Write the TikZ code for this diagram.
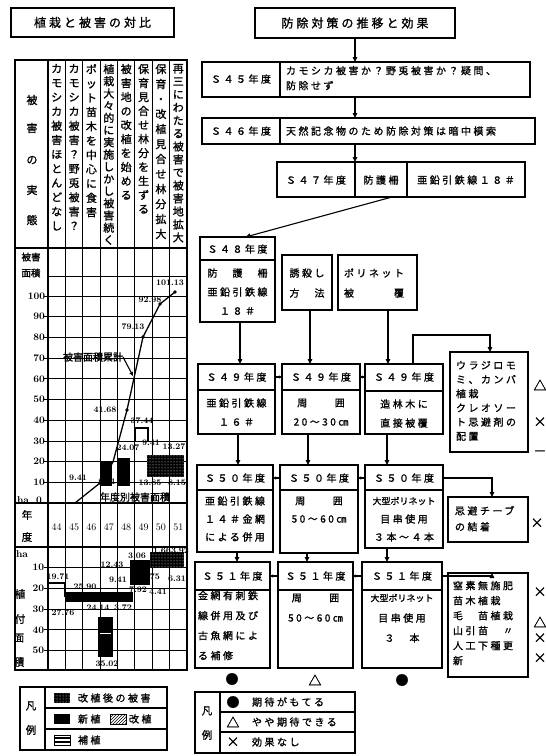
\documentclass[tikz,border=0pt]{standalone}
\usepackage{fontspec}
\newfontfamily\jp{Noto Sans CJK JP}[FakeBold=1.2]
\newfontfamily\jpl{Noto Sans CJK JP}[LetterSpace=25,FakeBold=1.2]
\usetikzlibrary{arrows.meta,patterns}
\ExplSyntaxOn
\NewDocumentCommand\vtext{m}{\tl_map_inline:nn{#1}{##1\\}}
\ExplSyntaxOff
\begin{document}
\begin{tikzpicture}[x=1pt,y=-1pt,line width=1.1pt,
  every node/.style={inner sep=0pt,outer sep=0pt,font=\jp\fontsize{10}{12}\selectfont},
  box/.style 2 args={draw,anchor=north west,minimum width=#1,minimum height=#2},
  arr/.style={-{Triangle[length=5pt,width=4.5pt]}},
  sarr/.style={-{Triangle[length=3pt,width=3pt]}},
  vcol/.style={anchor=north,align=center,font=\jp\fontsize{11}{#1}\selectfont},
  tx/.style={font=\jpl\fontsize{10}{12}\selectfont},
  lt/.style={anchor=west,font=\jpl\fontsize{10}{12}\selectfont},
  mk/.style={font=\jp\fontsize{13}{14}\selectfont},
  grid/.style={line width=0.7pt},
  num/.style={font=\bfseries\fontsize{8.5}{10}\selectfont},
  ax/.style={anchor=east,font=\bfseries\fontsize{10}{11}\selectfont}]
\useasboundingbox (0,0) rectangle (546,756);
\fill[white] (0,0) rectangle (546,756);

% ================= LEFT PANEL =================
\node[box={163}{29}] (lt) at (11,8) {};
\node[font=\jpl\fontsize{12}{14}\selectfont] (ltt) at (lt.center) {植栽と被害の対比};

\node[box={172}{610}] (tab) at (15,60) {};
\draw (48,60) -- (48,670);
\foreach \i in {1,...,7} \draw ({48+17.375*\i},60) -- ({48+17.375*\i},670);
\draw (15,248) -- (187,248);
\draw (15,503) -- (187,503);
\draw (15,547) -- (187,547);
\foreach \v in {10,20,...,100} \draw[grid] (44,{503-2.07*\v}) -- (187,{503-2.07*\v});
\draw[grid] (48,276) -- (187,276);
\foreach \v in {10,20,...,50} \draw[grid] (44,{547+2.07*\v}) -- (187,{547+2.07*\v});

% header column
\node[font=\jp\fontsize{11}{12}\selectfont] (h1) at (32,100) {被};
\node[font=\jp\fontsize{11}{12}\selectfont] (h2) at (32,128) {害};
\node[font=\jp\fontsize{11}{12}\selectfont] (h3) at (32,160) {の};
\node[font=\jp\fontsize{11}{12}\selectfont] (h4) at (32,190) {実};
\node[font=\jp\fontsize{11}{12}\selectfont] (h5) at (32,220) {態};

% text columns
\node[vcol=14.3] (c44) at (56.7,64) {\vtext{カモシカ被害ほとんどなし}};
\node[vcol=14.3] (c45) at (74.1,64) {\vtext{カモシカ被害？野兎被害？}};
\node[vcol=14.3] (c46) at (91.4,64) {\vtext{ポット苗木を中心に食害}};
\node[vcol=12.2] (c47) at (108.8,64) {\vtext{植栽大々的に実施しかし被害続く}};
\node[vcol=14] (c48) at (126.2,64) {\vtext{被害地の改植を始める}};
\node[vcol=14] (c49) at (143.6,64) {\vtext{保育見合せ林分を生ずる}};
\node[vcol=15] (c50) at (160.9,64) {\vtext{保育・改植見合せ林分拡大}};
\node[vcol=13] (c51) at (178.3,64) {\vtext{再三にわたる被害で被害地拡大}};

% upper chart axis
\node[font=\jp\fontsize{9.5}{10}\selectfont] (ya1) at (31,257) {被害};
\node[font=\jp\fontsize{9.5}{10}\selectfont] (ya2) at (31,273) {面積};
\foreach \v in {10,20,...,100} \node[ax] (yl\v) at (45,{503-2.07*\v}) {\v};
\node[font=\bfseries\fontsize{10}{11}\selectfont] (ha0) at (23,500) {ha};
\node[font=\bfseries\fontsize{10}{11}\selectfont] (z0) at (39,500) {0};

% annual bars (upper)
\fill[black] (100,462) rectangle (112,486);
\fill[black] (117,458) rectangle (130,486);
\fill[black] (147,455) rectangle (184,477);
\fill[pattern=dots,pattern color=white] (147,455) rectangle (184,477);
\draw (135,442) -- (135,428) -- (148,428) -- (148,442);

% cumulative line
\coordinate (p0) at (75,503);
\coordinate (p1) at (100,483);
\coordinate (p2) at (113,462);
\coordinate (p3) at (127,410);
\coordinate (p4) at (143,337);
\coordinate (p5) at (160,304);
\coordinate (p6) at (175,292);
\draw[line width=1.3pt] (p0) -- (p1) -- (p2) -- (p3) -- (p4) -- (p5) -- (p6);
\foreach \p in {p1,p3,p4,p5,p6} \fill (\p) circle (1.8);

\node[num] (v1) at (170,283) {101.13};
\node[num] (v2) at (150,300) {92.98};
\node[num] (v3) at (133,327) {79.13};
\node[num] (v4) at (105,410) {41.68};
\node[num] (v5) at (142,421) {37.44};
\node[num] (v6) at (128,448) {24.07};
\node[num] (v7) at (151,443) {9.41};
\node[num] (v8) at (174,447) {13.27};
\node[num] (v9) at (78,478) {9.41};
\node[num] (v10) at (107,482) {8.21};
\node[num] (v11) at (150,483) {13.85};
\node[num] (v12) at (177,483) {8.15};

\node[font=\jp\fontsize{10}{12}\selectfont] (cum) at (93,357) {被害面積累計};
\draw[-{Triangle[length=4pt,width=3.5pt]}] (cum.east) -- (133,376);
\node[font=\jp\fontsize{10}{12}\selectfont] (ann) at (135,497) {年度別被害面積};

% year row
\node[font=\jp\fontsize{10.5}{12}\selectfont] (yy1) at (27,515) {年};
\node[font=\jp\fontsize{10.5}{12}\selectfont] (yy2) at (27,537) {度};
\foreach \yr [count=\i from 0] in {44,...,51} \node[font=\fontsize{10}{11}\selectfont] (yr\yr) at ({48+17.375*(\i+0.5)},527) {\yr};

% lower chart
\node[font=\bfseries\fontsize{10}{11}\selectfont] (ha1) at (22,554) {ha};
\foreach \v in {10,20,...,50} \node[ax] (ll\v) at (44,{547+2.07*\v}) {\v};
\node[font=\jp\fontsize{10.5}{12}\selectfont] (lp1) at (20,594) {植};
\node[font=\jp\fontsize{10.5}{12}\selectfont] (lp2) at (20,619) {付};
\node[font=\jp\fontsize{10.5}{12}\selectfont] (lp3) at (19,638) {面};
\node[font=\jp\fontsize{10.5}{12}\selectfont] (lp4) at (19,662) {積};

\draw[line width=1.3pt] (48,583) -- (65,583) -- (65,597);
\fill[black] (65,592) rectangle (133,602);
\fill[black] (130,560) rectangle (150,585);
\fill[black] (150,552) rectangle (184,567);
\fill[pattern=dots,pattern color=white] (150,552) rectangle (184,567);
\fill[black] (98,617) rectangle (113,657);
\draw[white,line width=0.8pt] (100,633) -- (111,633);

\node[num] (w1) at (58,577) {19.71};
\node[num] (w2) at (85,587) {25.90};
\node[num] (w3) at (63,613) {27.76};
\node[num] (w4) at (98,608) {24.14};
\node[num] (w5) at (123,608) {3.72};
\node[num] (w6) at (118,580) {9.41};
\node[num] (w7) at (112,565) {12.43};
\node[num] (w8) at (137,556) {3.06};
\node[num] (w9) at (162,551) {1.66};
\node[num] (w10) at (180,551) {3.92};
\node[num] (w11) at (138,590) {7.92};
\node[num] (w12) at (158,592) {4.41};
\node[num] (w13) at (151,577) {3.75};
\node[num] (w14) at (177,579) {6.31};
\node[num] (w15) at (107,664) {35.02};

% left legend
\node[box={147}{63}] (lg) at (20,687) {};
\draw (45,687) -- (45,750);
\draw (45,708) -- (167,708);
\draw (45,729) -- (167,729);
\node[font=\jp\fontsize{10.5}{12}\selectfont] (lgA) at (31,706) {凡};
\node[font=\jp\fontsize{10.5}{12}\selectfont] (lgB) at (31,730) {例};
\fill[black] (54,693) rectangle (70,703);
\fill[pattern=dots,pattern color=white] (54,693) rectangle (70,703);
\node[lt] (lg1) at (78,698) {改植後の被害};
\fill[black] (54,714) rectangle (70,724);
\node[lt] (lg2) at (78,719) {新植};
\draw[line width=0.6pt,pattern=north east lines] (110,714) rectangle (126,724);
\node[lt] (lg3) at (129,719) {改植};
\draw[line width=0.8pt] (54,735) rectangle (70,745);
\draw[line width=1.5pt] (54,738) -- (70,738);
\draw[line width=1.5pt] (54,742) -- (70,742);
\node[lt] (lg4) at (78,740) {補植};

% ================= RIGHT PANEL =================
\node[box={200}{30}] (t) at (255,8) {};
\node[font=\jpl\fontsize{12}{14}\selectfont] (tt) at (t.center) {防除対策の推移と効果};

\node[box={328}{35}] (s45) at (202,62) {};
\draw (280,62) -- (280,97);
\node[tx] (s45a) at (241,79) {Ｓ４５年度};
\node[tx,anchor=north west,align=left,font=\jpl\fontsize{10}{15}\selectfont] (s45b) at (286,66) {カモシカ被害か？野兎被害か？疑問、\\防除せず};

\node[box={333}{26}] (s46) at (202,118) {};
\draw (280,118) -- (280,144);
\node[tx] (s46a) at (241,131) {Ｓ４６年度};
\node[tx,anchor=west] (s46b) at (286,131) {天然記念物のため防除対策は暗中模索};

\node[box={248}{35}] (s47) at (277,162) {};
\draw (355,162) -- (355,197);
\draw (407,162) -- (407,197);
\node[tx] (s47a) at (316,180) {Ｓ４７年度};
\node[tx] (s47b) at (381,180) {防護柵};
\node[tx] (s47c) at (466,180) {亜鉛引鉄線１８＃};

\draw[arr] (t.south) -- (t.south |- s45.north);
\draw[arr] (t.south |- s45.south) -- (t.south |- s46.north);
\draw[arr] (t.south |- s46.south) -- (t.south |- s47.north);

% S48 group
\node[box={75}{85}] (s48) at (200,237) {};
\draw (200,260) -- (275,260);
\node[tx] (s48a) at (237.5,249) {Ｓ４８年度};
\node[tx] (s48b) at (237.5,273) {防　護　柵};
\node[tx] (s48c) at (237.5,292) {亜鉛引鉄線};
\node[tx] (s48d) at (237.5,311) {１８＃};
\draw[arr] ([xshift=-9]s47.south) -- ([xshift=8]s48.north);

\node[box={50}{55}] (yu) at (282,255) {};
\node[tx] (yua) at (307,273) {誘殺し};
\node[tx] (yub) at (307,293) {方　法};
\node[box={79}{55}] (po) at (338,255) {};
\node[tx,anchor=west] (poa) at (344,273) {ポリネット};
\node[tx,anchor=west] (pob) at (344,293) {被　　　覆};

% S49 row
\node[box={77}{70}] (s49a) at (198,364) {};
\draw (198,390) -- (275,390);
\node[tx] (s49a1) at (236.5,377) {Ｓ４９年度};
\node[tx] (s49a2) at (236.5,403) {亜鉛引鉄線};
\node[tx] (s49a3) at (236.5,422) {１６＃};
\node[box={78}{70}] (s49b) at (282,364) {};
\draw (282,390) -- (360,390);
\node[tx] (s49b1) at (321,377) {Ｓ４９年度};
\node[tx] (s49b2) at (321,403) {周　　囲};
\node[tx] (s49b3) at (321,422) {20〜30㎝};
\node[box={78}{70}] (s49c) at (365,364) {};
\draw (365,391) -- (443,391);
\node[tx] (s49c1) at (404,377) {Ｓ４９年度};
\node[tx] (s49c2) at (404,404) {造林木に};
\node[tx] (s49c3) at (404,423) {直接被覆};
\draw[arr] (s48.south -| 240,0) -- (s49a.north -| 240,0);
\draw[arr] (yu.south -| 310,0) -- (s49b.north -| 310,0);
\draw[arr] (po.south -| 388,0) -- (s49c.north -| 388,0);
\draw[sarr] (s49a.east |- s49a1) -- (s49b.west |- s49a1);
\draw[sarr] (s49b.east |- s49b1) -- (s49c.west |- s49b1);

\node[box={78}{100}] (ur) at (450,352) {};
\node[lt,anchor=north west,align=left,font=\jpl\fontsize{10}{14.2}\selectfont] (urt) at (456,361) {ウラジロモ\\ミ、カンバ\\植栽\\クレオソー\\ト忌避剤の\\配置};
\draw[arr] (s49c.north -| 413,0) -- (413,335) -| (ur.north -| 490,0);
\node[mk] (urm1) at (540,385) {△};
\node[mk] (urm2) at (540,422) {×};
\node[mk] (urm3) at (540,453) {－};

% S50 row
\node[box={76}{87}] (s50a) at (197,465) {};
\draw (197,490) -- (273,490);
\node[tx] (s50a1) at (235,478) {Ｓ５０年度};
\node[tx] (s50a2) at (235,501) {亜鉛引鉄線};
\node[tx] (s50a3) at (235,519) {１４＃金網};
\node[tx] (s50a4) at (235,537) {による併用};
\node[box={78}{88}] (s50b) at (280,465) {};
\draw (280,490) -- (358,490);
\node[tx] (s50b1) at (319,478) {Ｓ５０年度};
\node[tx] (s50b2) at (319,501) {周　　囲};
\node[tx] (s50b3) at (319,519) {50〜60㎝};
\node[box={78}{83}] (s50c) at (365,465) {};
\draw (365,490) -- (443,490);
\node[tx] (s50c1) at (404,478) {Ｓ５０年度};
\node[font=\jp\fontsize{9}{10}\selectfont] (s50c2) at (404,501) {大型ポリネット};
\node[tx] (s50c3) at (404,519) {目串使用};
\node[tx] (s50c4) at (404,537) {３本〜４本};
\draw[arr] (s49a.south -| 238,0) -- (s50a.north -| 238,0);
\draw[arr] (s49b.south -| 308,0) -- (s50b.north -| 308,0);
\draw[arr] (s49c.south -| 387,0) -- (s50c.north -| 387,0);
\draw[sarr] (s50b.west |- s50a1) -- (s50a.east |- s50a1);
\draw[sarr] (s50c.west |- s50b1) -- (s50b.east |- s50b1);

\node[box={80}{45}] (ki) at (448,497) {};
\node[lt,anchor=north west,align=left,font=\jpl\fontsize{10}{16}\selectfont] (kit) at (455,506) {忌避チーブ\\の結着};
\draw[arr] (s50c.east |- s50c1) -| (ki.north -| 492,0);
\node[mk] (kim) at (537,523) {×};

% S51 row
\node[box={75}{106}] (s51a) at (195,562) {};
\draw (195,590) -- (270,590);
\node[tx] (s51a1) at (232.5,576) {Ｓ５１年度};
\node[lt,anchor=north west,align=left,font=\jpl\fontsize{10}{20}\selectfont] (s51a2) at (198,591) {金網有刺鉄\\線併用及び\\古魚網によ\\る補修};
\node[box={75}{106}] (s51b) at (278,562) {};
\draw (278,590) -- (353,590);
\node[tx] (s51b1) at (315.5,576) {Ｓ５１年度};
\node[tx] (s51b2) at (315.5,598) {周　　囲};
\node[tx] (s51b3) at (315.5,618) {50〜60㎝};
\node[box={80}{106}] (s51c) at (362,562) {};
\draw (362,590) -- (442,590);
\node[tx] (s51c1) at (402,576) {Ｓ５１年度};
\node[font=\jp\fontsize{9}{10}\selectfont] (s51c2) at (402,598) {大型ポリネット};
\node[tx] (s51c3) at (402,618) {目串使用};
\node[tx] (s51c4) at (402,638) {３　本};
\draw[arr] (s50a.south -| 237,0) -- (s51a.north -| 237,0);
\draw[arr] (s50b.south -| 307,0) -- (s51b.north -| 307,0);
\draw[arr] (s50c.south -| 387,0) -- (s51c.north -| 387,0);
\draw[sarr] (s51b.west |- s51a1) -- (s51a.east |- s51a1);
\draw[sarr] (s51c.west |- s51b1) -- (s51b.east |- s51b1);

\node[box={80}{104}] (ch) at (448,573) {};
\node[lt,anchor=north west,align=left,font=\jpl\fontsize{10}{15}\selectfont] (cht) at (453,581) {窒素無施肥\\苗木植栽\\毛　苗植栽\\山引苗　〃\\人工下種更\\新};
\draw[arr] (s51c.east |- s51c1) -| (ch.north -| 492,0);
\node[mk] (chm1) at (540,592) {×};
\node[mk] (chm2) at (540,622) {△};
\node[mk] (chm3) at (540,638) {×};
\node[mk] (chm4) at (540,658) {×};

\node[mk] (e1) at (232,679) {●};
\node[mk] (e2) at (315,680) {△};
\node[mk] (e3) at (402,680) {●};

% right legend
\node[box={160}{61}] (rg) at (195,692) {};
\draw (220,692) -- (220,753);
\draw (220,712) -- (355,712);
\draw (220,732) -- (355,732);
\node[font=\jp\fontsize{10.5}{12}\selectfont] (rgA) at (207,711) {凡};
\node[font=\jp\fontsize{10.5}{12}\selectfont] (rgB) at (207,735) {例};
\node[mk] (rg1) at (233,702) {●};
\node[mk] (rg2) at (233,722) {△};
\node[mk] (rg3) at (233,742) {×};
\node[lt] (rg1t) at (252,702) {期待がもてる};
\node[lt] (rg2t) at (252,722) {やや期待できる};
\node[lt] (rg3t) at (252,742) {効果なし};
\end{tikzpicture}
\end{document}
